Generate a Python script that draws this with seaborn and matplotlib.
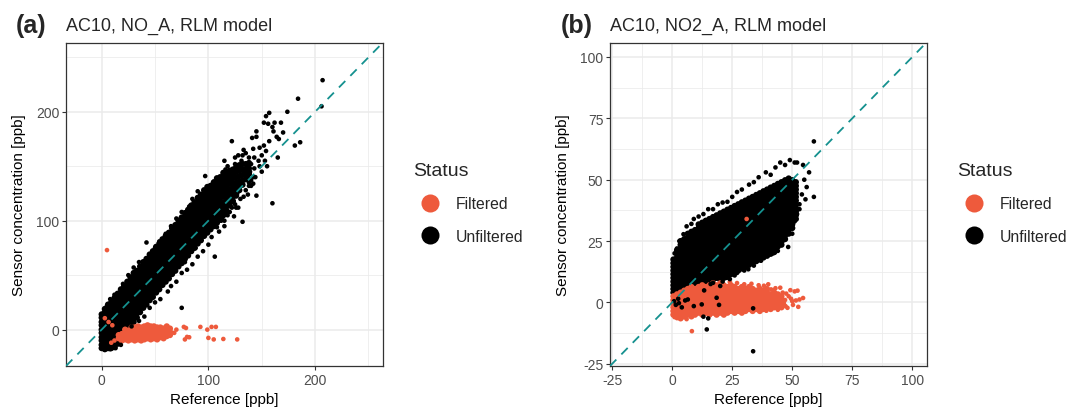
import matplotlib
matplotlib.use("Agg")
import matplotlib.pyplot as plt
from matplotlib.lines import Line2D
import pandas as pd
import seaborn as sns

# ---------------------------------------------------------------- data
STATUS = ["Filtered", "Unfiltered"]
STATUS_COLOURS = {"Filtered": "#EE5A3C", "Unfiltered": "#000000"}

PANEL_TAGS = ["(a)", "(b)"]
PANEL_TITLES = ["AC10, NO_A, RLM model", "AC10, NO2_A, RLM model"]

NO_TICKS = [0, 100, 200]
NO_MINOR = [50, 150, 250]
NO_LIMITS = (-33.4, 263.6)
NO2_TICKS = [-25, 0, 25, 50, 75, 100]
NO2_MINOR = [-12.5, 12.5, 37.5, 62.5, 87.5]
NO2_LIMITS = (-25.9, 105.9)

# NO: dense body of unfiltered points, reference value -> sensor values
NO_UNFILTERED_BODY = {
    0: [-17, -14, -10, -7, -3, 0, 4, 7, 11, 14],
    3: [-18, -16, -12, -9, -5, -2, 2, 5, 9, 12, 16, 19],
    6: [-17, -15, -12, -8, -5, -1, 2, 6, 9, 13, 16, 20, 23],
    9: [-17, -14, -10, -7, -3, 0, 4, 7, 11, 14, 18, 21, 25],
    12: [-16, -12, -9, -5, -2, 2, 5, 9, 12, 16, 19, 23, 26, 29],
    15: [-13, -9, -6, -2, 1, 5, 8, 12, 15, 19, 22, 26, 29, 33],
    18: [-9, -5, -2, 2, 5, 9, 12, 16, 19, 23, 26, 30, 33, 37],
    21: [-5, -1, 2, 6, 9, 13, 16, 20, 23, 27, 30, 34, 36, 40],
    24: [-1, 3, 6, 10, 13, 17, 20, 24, 27, 31, 34, 38, 40, 44],
    27: [3, 7, 10, 14, 17, 21, 24, 28, 31, 35, 38, 42, 44, 48],
    30: [7, 11, 14, 18, 21, 25, 28, 32, 35, 39, 42, 46, 48, 52],
    33: [11, 15, 18, 22, 25, 29, 32, 36, 39, 43, 46, 50, 54],
    36: [16, 20, 23, 27, 30, 34, 37, 41, 44, 48, 51, 54, 58],
    39: [20, 24, 27, 31, 34, 38, 41, 45, 48, 52, 55, 58, 62],
    42: [23, 27, 30, 34, 37, 41, 44, 48, 51, 55, 58, 61, 65],
    45: [27, 31, 34, 38, 41, 45, 48, 52, 55, 59, 62, 65, 69],
    48: [30, 34, 37, 41, 44, 48, 51, 55, 58, 62, 65, 68, 72],
    51: [34, 38, 41, 45, 48, 52, 55, 59, 62, 66, 69, 72, 76],
    54: [37, 41, 44, 48, 51, 55, 58, 62, 65, 69, 72, 75, 79],
    57: [41, 45, 48, 52, 55, 59, 62, 66, 69, 73, 76, 79, 83],
    60: [44, 48, 51, 55, 58, 62, 65, 69, 72, 76, 79, 82, 86],
    63: [47, 51, 54, 58, 61, 65, 68, 72, 75, 79, 82, 85, 89],
    66: [51, 55, 58, 62, 65, 69, 72, 76, 79, 83, 86, 89, 93],
    69: [54, 58, 61, 65, 68, 72, 75, 79, 82, 86, 89, 92, 96],
    72: [58, 62, 65, 69, 72, 76, 79, 83, 86, 90, 93, 96, 100],
    75: [61, 65, 68, 72, 75, 79, 82, 86, 89, 93, 96, 99, 103],
    78: [65, 69, 72, 76, 79, 83, 86, 90, 93, 97, 100, 103, 107],
    81: [68, 72, 75, 79, 82, 86, 89, 93, 96, 100, 103, 106, 110],
    84: [72, 76, 79, 83, 86, 90, 93, 97, 100, 104, 107, 110, 114],
    87: [75, 79, 82, 86, 89, 93, 96, 100, 103, 107, 110, 113, 117],
    90: [79, 83, 86, 90, 93, 97, 100, 104, 107, 111, 114, 117, 121],
    93: [82, 86, 89, 93, 96, 100, 103, 107, 110, 114, 117, 120, 124],
    96: [86, 90, 93, 97, 100, 104, 107, 111, 114, 118, 121, 124, 128],
    99: [89, 93, 96, 100, 103, 107, 110, 114, 117, 121, 124, 127, 131],
    102: [92, 96, 100, 104, 107, 111, 114, 118, 121, 125, 128, 132],
    105: [95, 99, 103, 107, 110, 114, 117, 121, 124, 128, 131, 135],
    108: [98, 102, 106, 111, 114, 118, 121, 125, 128, 132, 135, 139],
    111: [101, 105, 109, 113, 118, 122, 125, 129, 132, 136, 140],
    114: [105, 109, 113, 117, 122, 126, 129, 133, 136, 140, 144],
    117: [109, 113, 117, 121, 125, 130, 133, 137, 141, 145],
    120: [114, 118, 121, 125, 129, 134, 138, 142, 146],
    123: [118, 122, 126, 130, 134, 139, 143, 147],
    126: [123, 127, 131, 135, 140, 145, 149],
    129: [128, 132, 136, 141, 146, 151],
    132: [133, 137, 142, 147, 152],
    135: [138, 142, 147, 152],
    138: [143, 148, 153],
}

# NO: scattered unfiltered points (reference, sensor)
NO_UNFILTERED_SCATTER = [
    (207, 229), (184, 212), (206, 205), (174, 200), (157, 199), (154, 196),
    (152, 190), (156, 189), (162, 190), (168, 190), (160, 186), (161, 182),
    (170, 181), (164, 177), (166, 175), (186, 172), (181, 169), (145, 182),
    (141, 176), (145, 177), (122, 173), (157, 173), (152, 169), (142, 166),
    (148, 167), (154, 164), (165, 158), (125, 158), (132, 160), (97, 141),
    (145, 123), (160, 116), (82, 113), (124, 104), (132, 99), (106, 67),
    (75, 20), (118, 150), (125, 152), (128, 146), (131, 155), (136, 150),
    (138, 158), (140, 152), (135, 162), (128, 160), (120, 145), (112, 140),
    (116, 147), (143, 158), (147, 155), (150, 160), (139, 145), (143, 148),
    (148, 150), (153, 155), (144, 140), (150, 145), (140, 137), (137, 140),
    (155, 150), (133, 165), (110, 132), (105, 136), (100, 130), (115, 155),
    (127, 140), (134, 145), (138, 132), (142, 134), (130, 150), (122, 140),
    (117, 138), (108, 128), (42, 80), (54, 81), (30, 57), (25, 50), (20, 42),
    (12, 32), (8, 28), (5, 22), (65, 95), (75, 108), (85, 120), (70, 102),
    (50, 75), (35, 62), (60, 88), (90, 127), (40, 12), (50, 25), (62, 35),
    (70, 44), (80, 55), (90, 67), (100, 78), (110, 90), (118, 105),
    (126, 112), (115, 95), (95, 72), (85, 60), (75, 52), (65, 40), (55, 28),
    (45, 20), (35, 8), (28, 3), (13, -17), (8, -18), (3, -18), (18, -14),
    (103, 85), (88, 75), (78, 62), (58, 45), (48, 32), (120, 118),
    (112, 100), (96, 90), (120, 108), (125, 115), (130, 120), (135, 128),
    (138, 135), (128, 112), (115, 100), (122, 112), (133, 122), (140, 132),
    (127, 125), (142, 140), (117, 106), (108, 94), (113, 103), (137, 124),
    (95, 122), (100, 126), (88, 116), (78, 104), (104, 133),
]

# NO: filtered points, reference value -> sensor values
NO_FILTERED_BODY = {
    16: [-8, -5],
    19: [-10, -7, -4],
    22: [-9, -6, -3, 0],
    25: [-10, -7, -4, -1],
    28: [-9, -6, -3, 0, 2],
    31: [-10, -7, -4, -1, 2],
    34: [-9, -6, -3, 0, 3],
    37: [-10, -7, -4, -1, 2],
    40: [-9, -6, -3, 0, 3],
    43: [-8, -5, -2, 1, 4],
    46: [-9, -6, -3, 0, 3],
    49: [-8, -5, -2, 1, 3],
    52: [-9, -6, -3, 0, 2],
    55: [-7, -4, -1, 2],
    58: [-8, -5, -2, 1],
    61: [-6, -3, 0, 3],
    64: [-5, -2, 1],
}
NO_FILTERED_SCATTER = [
    (5, 73), (77, 2.5), (79, 1.5), (92.5, 2.5), (99, 0), (103, 2.5),
    (107, 2.5), (78, -9), (80, -6.7), (82, -7), (100, -7.6), (105, -9),
    (114, -8.6), (127, -9), (68, -3), (70, 0), (12, -10), (9, -12),
    (3, 10.5), (6.5, 7), (10, 4),
]

# NO2: dense body of unfiltered points, reference value -> sensor values
NO2_UNFILTERED_BODY = {
    0.5: [4.0, 5.5, 7.0, 8.5, 10.0, 11.5, 13.0, 14.5, 16.0, 17.5],
    2.0: [4.8, 6.3, 7.8, 9.3, 10.8, 12.3, 13.8, 15.3, 16.8, 18.3, 19.8, 21.3],
    3.5: [5.5, 7.0, 8.5, 10.0, 11.5, 13.0, 14.5, 16.0, 17.5, 19.0, 20.5,
          22.0, 23.5, 25.0],
    5.0: [6.3, 7.8, 9.3, 10.8, 12.3, 13.8, 15.3, 16.8, 18.3, 19.8, 21.3,
          22.8, 24.3, 25.8],
    6.5: [7.0, 8.5, 10.0, 11.5, 13.0, 14.5, 16.0, 17.5, 19.0, 20.5, 22.0,
          23.5, 25.0, 26.5, 28.0],
    8.0: [7.8, 9.3, 10.8, 12.3, 13.8, 15.3, 16.8, 18.3, 19.8, 21.3, 22.8,
          24.3, 25.8, 27.3, 28.8],
    9.5: [7.0, 8.5, 10.0, 11.5, 13.0, 14.5, 16.0, 17.5, 19.0, 20.5, 22.0,
          23.5, 25.0, 26.5, 28.0, 29.5],
    11.0: [7.8, 9.3, 10.8, 12.3, 13.8, 15.3, 16.8, 18.3, 19.8, 21.3, 22.8,
           24.3, 25.8, 27.3, 28.8, 30.3, 31.8],
    12.5: [8.5, 10.0, 11.5, 13.0, 14.5, 16.0, 17.5, 19.0, 20.5, 22.0, 23.5,
           25.0, 26.5, 28.0, 29.5, 31.0, 32.5],
    14.0: [7.8, 9.3, 10.8, 12.3, 13.8, 15.3, 16.8, 18.3, 19.8, 21.3, 22.8,
           24.3, 25.8, 27.3, 28.8, 30.3, 31.8, 33.3],
    15.5: [8.5, 10.0, 11.5, 13.0, 14.5, 16.0, 17.5, 19.0, 20.5, 22.0, 23.5,
           25.0, 26.5, 28.0, 29.5, 31.0, 32.5, 34.0],
    17.0: [9.3, 10.8, 12.3, 13.8, 15.3, 16.8, 18.3, 19.8, 21.3, 22.8, 24.3,
           25.8, 27.3, 28.8, 30.3, 31.8, 33.3, 34.8],
    18.5: [10.0, 11.5, 13.0, 14.5, 16.0, 17.5, 19.0, 20.5, 22.0, 23.5, 25.0,
           26.5, 28.0, 29.5, 31.0, 32.5, 34.0, 35.5],
    20.0: [9.3, 10.8, 12.3, 13.8, 15.3, 16.8, 18.3, 19.8, 21.3, 22.8, 24.3,
           25.8, 27.3, 28.8, 30.3, 31.8, 33.3, 34.8, 36.3],
    21.5: [10.0, 11.5, 13.0, 14.5, 16.0, 17.5, 19.0, 20.5, 22.0, 23.5, 25.0,
           26.5, 28.0, 29.5, 31.0, 32.5, 34.0, 35.5, 37.0],
    23.0: [10.8, 12.3, 13.8, 15.3, 16.8, 18.3, 19.8, 21.3, 22.8, 24.3, 25.8,
           27.3, 28.8, 30.3, 31.8, 33.3, 34.8, 36.3, 37.8],
    24.5: [11.5, 13.0, 14.5, 16.0, 17.5, 19.0, 20.5, 22.0, 23.5, 25.0, 26.5,
           28.0, 29.5, 31.0, 32.5, 34.0, 35.5, 37.0, 38.5],
    26.0: [12.3, 13.8, 15.3, 16.8, 18.3, 19.8, 21.3, 22.8, 24.3, 25.8, 27.3,
           28.8, 30.3, 31.8, 33.3, 34.8, 36.3, 37.8, 39.3],
    27.5: [13.0, 14.5, 16.0, 17.5, 19.0, 20.5, 22.0, 23.5, 25.0, 26.5, 28.0,
           29.5, 31.0, 32.5, 34.0, 35.5, 37.0, 38.5, 40.0],
    29.0: [13.8, 15.3, 16.8, 18.3, 19.8, 21.3, 22.8, 24.3, 25.8, 27.3, 28.8,
           30.3, 31.8, 33.3, 34.8, 36.3, 37.8, 39.3, 40.8],
    30.5: [14.5, 16.0, 17.5, 19.0, 20.5, 22.0, 23.5, 25.0, 26.5, 28.0, 29.5,
           31.0, 32.5, 34.0, 35.5, 37.0, 38.5, 40.0, 41.5],
    32.0: [15.3, 16.8, 18.3, 19.8, 21.3, 22.8, 24.3, 25.8, 27.3, 28.8, 30.3,
           31.8, 33.3, 34.8, 36.3, 37.8, 39.3, 40.8, 42.3],
    33.5: [16.0, 17.5, 19.0, 20.5, 22.0, 23.5, 25.0, 26.5, 28.0, 29.5, 31.0,
           32.5, 34.0, 35.5, 37.0, 38.5, 40.0, 41.5, 43.0],
    35.0: [16.8, 18.3, 19.8, 21.3, 22.8, 24.3, 25.8, 27.3, 28.8, 30.3, 31.8,
           33.3, 34.8, 36.3, 37.8, 39.3, 40.8, 42.3, 43.8],
    36.5: [17.5, 19.0, 20.5, 22.0, 23.5, 25.0, 26.5, 28.0, 29.5, 31.0, 32.5,
           34.0, 35.5, 37.0, 38.5, 40.0, 41.5, 43.0, 44.5],
    38.0: [18.3, 19.8, 21.3, 22.8, 24.3, 25.8, 27.3, 28.8, 30.3, 31.8, 33.3,
           34.8, 36.3, 37.8, 39.3, 40.8, 42.3, 43.8, 45.3],
    39.5: [19.0, 20.5, 22.0, 23.5, 25.0, 26.5, 28.0, 29.5, 31.0, 32.5, 34.0,
           35.5, 37.0, 38.5, 40.0, 41.5, 43.0, 44.5, 46.0],
    41.0: [19.8, 21.3, 22.8, 24.3, 25.8, 27.3, 28.8, 30.3, 31.8, 33.3, 34.8,
           36.3, 37.8, 39.3, 40.8, 42.3, 43.8, 45.3, 46.8],
    42.5: [20.5, 22.0, 23.5, 25.0, 26.5, 28.0, 29.5, 31.0, 32.5, 34.0, 35.5,
           37.0, 38.5, 40.0, 41.5, 43.0, 44.5, 46.0, 47.5],
    44.0: [22.8, 24.3, 25.8, 27.3, 28.8, 30.3, 31.8, 33.3, 34.8, 36.3, 37.8,
           39.3, 40.8, 42.3, 43.8, 45.3, 46.8, 48.3],
    45.5: [23.5, 25.0, 26.5, 28.0, 29.5, 31.0, 32.5, 34.0, 35.5, 37.0, 38.5,
           40.0, 41.5, 43.0, 44.5, 46.0, 47.5, 49.0],
    47.0: [25.8, 27.3, 28.8, 30.3, 31.8, 33.3, 34.8, 36.3, 37.8, 39.3, 40.8,
           42.3, 43.8, 45.3, 46.8, 48.3, 49.8],
    48.5: [28.0, 29.5, 31.0, 32.5, 34.0, 35.5, 37.0, 38.5, 40.0, 41.5, 43.0,
           44.5, 46.0, 47.5, 49.0, 50.5],
    50.0: [30.3, 31.8, 33.3, 34.8, 36.3, 37.8, 39.3, 40.8, 42.3, 43.8, 45.3,
           46.8, 48.3, 49.8],
    51.5: [34.0, 35.5, 37.0, 38.5, 40.0, 41.5, 43.0, 44.5, 46.0, 47.5, 49.0],
}

NO2_UNFILTERED_SCATTER = [
    (59, 65.6), (51, 57), (45, 57), (54.5, 56), (57, 53), (39, 53), (32, 48),
    (27, 45), (21, 40.7), (17, 38), (11, 35), (59, 43), (55.5, 42), (53, 38),
    (48.3, 22.6), (39, 21.6), (31.7, 13.5), (27, 12), (22.7, 10), (20, 6.7),
    (4.7, 27.8), (2, 22), (1, 20), (3, 25), (6, 31), (8, 32), (9, 34),
    (13, 36), (15, 38), (19, 40), (23, 41), (25, 43), (29, 46), (34, 49),
    (36, 51), (41, 52), (43, 55), (47, 56), (49, 58), (52, 57), (55, 50),
    (56, 47), (54, 44), (53, 40), (52, 36), (51, 33), (50, 28), (46, 25),
    (44, 21), (42, 20), (37, 17), (34, 15), (30, 13), (26, 11), (24, 9.5),
    (21, 8.5), (17, 8), (16, 7.5), (12.3, -0.8), (18.5, 1.9), (14.4, -11),
    (33.7, -19.9), (13, -5.8), (33.7, -2.4), (13.3, 4.9), (5.4, 0.8),
    (1.5, -1.0), (4, -2), (19.5, -1), (9, -1.5), (2.5, 1.5), (15, -6.5),
    (0.8, 0.5), (2.8, -0.3), (6.5, 1.2),
]

NO2_FILTERED_BODY = {
    0.5: [-5.0, -3.5, -2.0, -0.5, 1.0, 2.5],
    2.0: [-5.7, -4.2, -2.7, -1.2, 0.3, 1.8, 3.3],
    3.5: [-6.5, -5.0, -3.5, -2.0, -0.5, 1.0, 2.5, 4.0],
    5.0: [-5.7, -4.2, -2.7, -1.2, 0.3, 1.8, 3.3, 4.8],
    6.5: [-5.0, -3.5, -2.0, -0.5, 1.0, 2.5, 4.0, 5.5],
    8.0: [-5.7, -4.2, -2.7, -1.2, 0.3, 1.8, 3.3, 4.8, 6.3],
    9.5: [-5.0, -3.5, -2.0, -0.5, 1.0, 2.5, 4.0, 5.5],
    11.0: [-4.2, -2.7, -1.2, 0.3, 1.8, 3.3, 4.8, 6.3],
    12.5: [-5.0, -3.5, -2.0, -0.5, 1.0, 2.5, 4.0, 5.5, 7.0],
    14.0: [-4.2, -2.7, -1.2, 0.3, 1.8, 3.3, 4.8, 6.3],
    15.5: [-5.0, -3.5, -2.0, -0.5, 1.0, 2.5, 4.0, 5.5, 7.0],
    17.0: [-4.2, -2.7, -1.2, 0.3, 1.8, 3.3, 4.8, 6.3, 7.8],
    18.5: [-5.0, -3.5, -2.0, -0.5, 1.0, 2.5, 4.0, 5.5, 7.0],
    20.0: [-4.2, -2.7, -1.2, 0.3, 1.8, 3.3, 4.8, 6.3, 7.8],
    21.5: [-5.0, -3.5, -2.0, -0.5, 1.0, 2.5, 4.0, 5.5, 7.0],
    23.0: [-4.2, -2.7, -1.2, 0.3, 1.8, 3.3, 4.8, 6.3],
    24.5: [-3.5, -2.0, -0.5, 1.0, 2.5, 4.0, 5.5, 7.0],
    26.0: [-4.2, -2.7, -1.2, 0.3, 1.8, 3.3, 4.8, 6.3],
    27.5: [-3.5, -2.0, -0.5, 1.0, 2.5, 4.0, 5.5],
    29.0: [-4.2, -2.7, -1.2, 0.3, 1.8, 3.3, 4.8, 6.3],
    30.5: [-3.5, -2.0, -0.5, 1.0, 2.5, 4.0, 5.5],
    32.0: [-2.7, -1.2, 0.3, 1.8, 3.3, 4.8, 6.3],
    33.5: [-3.5, -2.0, -0.5, 1.0, 2.5, 4.0, 5.5],
    35.0: [-2.7, -1.2, 0.3, 1.8, 3.3, 4.8],
    36.5: [-3.5, -2.0, -0.5, 1.0, 2.5, 4.0, 5.5],
    38.0: [-2.7, -1.2, 0.3, 1.8, 3.3, 4.8],
    39.5: [-2.0, -0.5, 1.0, 2.5, 4.0, 5.5],
    41.0: [-2.7, -1.2, 0.3, 1.8, 3.3],
    42.5: [-2.0, -0.5, 1.0, 2.5, 4.0],
    44.0: [-1.2, 0.3, 1.8, 3.3],
    45.5: [-2.0, -0.5, 1.0, 2.5],
}

NO2_FILTERED_SCATTER = [
    (47, 1.0), (47.2, -1.5), (48.5, 2.5), (48.0, -2.2), (50.0, 0.5),
    (51.0, 4.5), (52.2, 4.8), (52.5, -1.8), (54.5, 1.8), (49.2, 5.0),
    (46.0, 4.0), (45.0, 6.0), (43.0, 5.8), (41.2, 5.3), (38.2, 6.8),
    (40.0, 7.4), (36.0, 7.0), (33.0, 7.6), (30.0, 7.4), (27.0, 7.9),
    (24.0, 8.3), (47.5, 3.6), (50.3, -1.0), (44.0, -3.0), (42.2, 4.9),
    (39.2, -3.4), (8.2, -11.7), (31.0, 34.0), (2.0, -6.4), (6.0, -6.8),
    (1.0, -6.0), (46.5, -0.3), (43.5, -1.8), (49.5, 1.5), (51.5, 0.8),
    (53.0, 1.2),
]

# marker area (pt^2): overlapping points in the dense clouds, lone points
POINT_SIZES = {"cloud": 20, "single": 11}


# ---------------------------------------------------------------- helpers
def body_frame(columns, status):
    rows = [(x, y) for x, ys in columns.items() for y in ys]
    return pd.DataFrame(rows, columns=["Reference", "Sensor"]).assign(
        Status=status, Kind="cloud")


def scatter_frame(points, status):
    return pd.DataFrame(points, columns=["Reference", "Sensor"]).assign(
        Status=status, Kind="single")


def panel_frame(unf_body, filt_body, filt_scatter, unf_scatter):
    # drawing order: unfiltered body, filtered points, stray unfiltered points
    return pd.concat([
        body_frame(unf_body, "Unfiltered"),
        body_frame(filt_body, "Filtered"),
        scatter_frame(filt_scatter, "Filtered"),
        scatter_frame(unf_scatter, "Unfiltered"),
    ], ignore_index=True)


# ---------------------------------------------------------------- style
sns.set_theme(style="white")
plt.rcParams["font.family"] = ["Liberation Sans", "DejaVu Sans"]
plt.rcParams["axes.unicode_minus"] = False

W, H = 1068, 410
fig = plt.figure(figsize=(W / 100, H / 100), dpi=100)


def fx(px):
    return px / W


def fy(px):
    return 1 - px / H


panels = [
    dict(left=66, right=383, top=43.5, bottom=367,
         data=panel_frame(NO_UNFILTERED_BODY, NO_FILTERED_BODY,
                          NO_FILTERED_SCATTER, NO_UNFILTERED_SCATTER),
         ticks=NO_TICKS, minor=NO_MINOR, lim=NO_LIMITS,
         tag_x=16, legend_x=413, ylabel_x=19),
    dict(left=610, right=926.5, top=43.5, bottom=367,
         data=panel_frame(NO2_UNFILTERED_BODY, NO2_FILTERED_BODY,
                          NO2_FILTERED_SCATTER, NO2_UNFILTERED_SCATTER),
         ticks=NO2_TICKS, minor=NO2_MINOR, lim=NO2_LIMITS,
         tag_x=561, legend_x=957, ylabel_x=563),
]

GRID = "#EBEBEB"
DARK = "#333333"

for i, p in enumerate(panels):
    width = p["right"] - p["left"]
    height = p["bottom"] - p["top"]
    ax = fig.add_axes([fx(p["left"]), fy(p["bottom"]), width / W, height / H])
    ax.set_axisbelow(True)

    sns.scatterplot(data=p["data"], x="Reference", y="Sensor", hue="Status",
                    hue_order=STATUS, palette=STATUS_COLOURS,
                    size="Kind", sizes=POINT_SIZES,
                    linewidth=0, legend=False, ax=ax, zorder=2)

    # 1:1 line
    ax.axline((0, 0), slope=1, color="#15918F", lw=1.3,
              ls=(0, (5, 4)), zorder=3)

    ax.set_xlim(*p["lim"])
    ax.set_ylim(*p["lim"])
    ax.set_xticks(p["ticks"])
    ax.set_yticks(p["ticks"])
    ax.set_xticks(p["minor"], minor=True)
    ax.set_yticks(p["minor"], minor=True)
    ax.grid(which="major", color=GRID, lw=1.1)
    ax.grid(which="minor", color=GRID, lw=0.55)
    ax.tick_params(which="major", length=2.6, width=0.8, color=DARK,
                   labelsize=10, labelcolor="#4D4D4D", pad=2.2,
                   bottom=True, left=True)
    ax.tick_params(which="minor", length=0)
    for sp in ax.spines.values():
        sp.set_color(DARK)
        sp.set_linewidth(0.9)

    ax.set_xlabel("Reference [ppb]", fontsize=11, color="black", va="top")
    ax.set_ylabel("Sensor concentration [ppb]", fontsize=11, color="black",
                  va="center")
    ax.xaxis.set_label_coords(0.5, -(393.5 - p["bottom"]) / height)
    ax.yaxis.set_label_coords((p["ylabel_x"] - p["left"]) / width, 0.5)

    fig.text(fx(p["tag_x"]), fy(33.3), PANEL_TAGS[i], fontsize=18,
             fontweight="bold", ha="left", va="baseline")
    fig.text(fx(p["left"]), fy(30.7), PANEL_TITLES[i], fontsize=13,
             ha="left", va="baseline")

    handles = [Line2D([], [], ls="none", marker="o", ms=13,
                      mfc=STATUS_COLOURS[s], mec="none") for s in STATUS]
    ax.legend(handles, STATUS, title="Status", loc="upper left",
              bbox_to_anchor=(fx(p["legend_x"]), fy(163)),
              bbox_transform=fig.transFigure, frameon=False,
              fontsize=11.3, title_fontsize=14, borderpad=0,
              borderaxespad=0, handlelength=2.13, handletextpad=0.61,
              labelspacing=1.1, alignment="left")

fig.savefig("out.png", dpi=100)
